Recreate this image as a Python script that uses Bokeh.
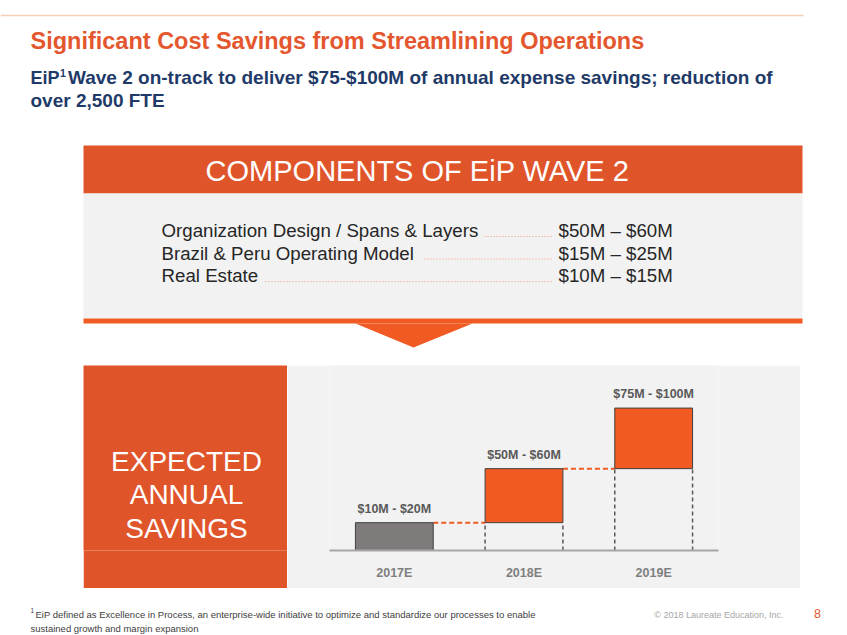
from bokeh.plotting import figure
from bokeh.models import Range1d, FactorRange, ColumnDataSource
from bokeh.layouts import column, row
from bokeh.transform import dodge
from bokeh.core.properties import value
from bokeh.embed import file_html
from bokeh.resources import INLINE

# ---------------- data ----------------
title = "Significant Cost Savings from Streamlining Operations"
subtitle_lead = "EiP"
subtitle_sup = "1"
subtitle_rest = "Wave 2 on-track to deliver $75-$100M of annual expense savings; reduction of"
subtitle_line2 = "over 2,500 FTE"
components_title = "COMPONENTS OF EiP WAVE 2"
component_names = ["Organization Design / Spans & Layers",
                   "Brazil & Peru Operating Model",
                   "Real Estate"]
component_ranges = ["$50M \u2013 $60M", "$15M \u2013 $25M", "$10M \u2013 $15M"]
panel_lines = ["EXPECTED", "ANNUAL", "SAVINGS"]
years = ["2017E", "2018E", "2019E"]
bar_bottom = [0, 17, 50]
bar_top = [17, 50, 87]
bar_labels = ["$10M - $20M", "$50M - $60M", "$75M - $100M"]
footnote_sup = "1"
footnote_lines = ["EiP defined as Excellence in Process, an enterprise-wide initiative to optimize and standardize our processes to enable",
                  "sustained growth and margin expansion"]
copyright_text = "\u00a9 2018 Laureate Education, Inc."
page_number = "8"

# ---------------- styles ----------------
FONT = value("Liberation Sans")
ORANGE_TITLE = "#E4572E"
NAVY = "#1F3A68"
HEADER_ORANGE = "#E0542A"
BRIGHT_ORANGE = "#F15A22"
PANEL_GRAY = "#F2F2F2"
bar_colors = ["#7F7B7B", BRIGHT_ORANGE, BRIGHT_ORANGE]

W = 846            # page width used
ROW_TOP, AXIS_Y, ROW_BOTTOM = 365, 550, 588
PAGE_BOTTOM = 634


def deco_fig(w, h, x0, x1, y0, y1, bg="white", border_bottom=0):
    f = figure(width=w, height=h, x_range=Range1d(x0, x1), y_range=Range1d(y1, y0),
               output_backend="svg", toolbar_location=None,
               x_axis_location=None, y_axis_location=None, min_border=0,
               background_fill_color=bg, border_fill_color=bg, outline_line_color=None)
    f.min_border_bottom = border_bottom
    f.xgrid.visible = False
    f.ygrid.visible = False
    return f


# ---------------- top part (page px coordinates) ----------------
top = deco_fig(W, ROW_TOP, 0, W, 0, ROW_TOP)
top.segment(x0=[0], y0=[15], x1=[803], y1=[15], line_color="#F8CDB8", line_width=1.5)
top.text(x=[30], y=[40], text=[title], text_font=FONT, text_font_size="23.5px",
         text_font_style="bold", text_color=ORANGE_TITLE, text_baseline="middle")
top.text(x=[30], y=[77], text=[subtitle_lead], text_font=FONT, text_font_size="18px",
         text_font_style="bold", text_color=NAVY, text_baseline="middle")
top.text(x=[59.5], y=[72], text=[subtitle_sup], text_font=FONT, text_font_size="10.5px",
         text_font_style="bold", text_color=NAVY, text_baseline="middle")
top.text(x=[67.5], y=[77], text=[subtitle_rest], text_font=FONT, text_font_size="19px",
         text_font_style="bold", text_color=NAVY, text_baseline="middle")
top.text(x=[30], y=[100], text=[subtitle_line2], text_font=FONT, text_font_size="19px",
         text_font_style="bold", text_color=NAVY, text_baseline="middle")

# components box
top.quad(left=[83], right=[802], top=[145], bottom=[193], fill_color=HEADER_ORANGE, line_color=None)
top.text(x=[417], y=[170], text=[components_title], text_font=FONT, text_font_size="29px",
         text_color="white", text_align="center", text_baseline="middle")
top.quad(left=[83], right=[802], top=[193], bottom=[318], fill_color=PANEL_GRAY, line_color=None)
top.quad(left=[83], right=[802], top=[318], bottom=[323], fill_color=BRIGHT_ORANGE, line_color=None)
top.patch(x=[355, 472, 413], y=[323, 323, 347], fill_color=BRIGHT_ORANGE, line_color=None)

row_y = [230 + 22.5 * i for i in range(len(component_names))]
leader_start = [484, 424, 265]
comp_src = ColumnDataSource(dict(name=component_names, rng=component_ranges, y=row_y,
                                 ly=[y + 6 for y in row_y], lx0=leader_start,
                                 lx1=[553] * len(row_y)))
top.segment(x0="lx0", y0="ly", x1="lx1", y1="ly", source=comp_src,
            line_color="#F29A74", line_width=1, line_dash="1 2")
top.text(x=161, y="y", text="name", source=comp_src, text_font=FONT, text_font_size="18.7px",
         text_color="#262626", text_baseline="middle")
top.text(x=558, y="y", text="rng", source=comp_src, text_font=FONT, text_font_size="18.7px",
         text_color="#262626", text_baseline="middle")

# ---------------- middle row ----------------
RH = ROW_BOTTOM - ROW_TOP
BB = ROW_BOTTOM - AXIS_Y
white_left = deco_fig(83, RH, 0, 83, ROW_TOP, AXIS_Y, border_bottom=BB)
white_left.quad(left=[0], right=[83], top=[ROW_TOP], bottom=[AXIS_Y], fill_color="white", line_color=None)

box = deco_fig(204, RH, 83, 287, ROW_TOP, AXIS_Y, bg=HEADER_ORANGE, border_bottom=BB)
panel_y = [460.5 + 33.5 * i for i in range(len(panel_lines))]
box.text(x=[186] * len(panel_lines), y=panel_y, text=panel_lines, text_font=FONT,
         text_font_size="28px", text_color="white", text_align="center", text_baseline="middle")

chart = figure(width=513, height=RH, x_range=FactorRange(factors=years), y_range=Range1d(0, 113),
               output_backend="svg", toolbar_location=None, y_axis_location=None,
               min_border_left=42, min_border_right=82, min_border_top=0, min_border_bottom=BB,
               background_fill_color=PANEL_GRAY, border_fill_color=PANEL_GRAY,
               outline_line_color=None)
chart.xgrid.visible = False
chart.ygrid.visible = False
chart.xaxis.axis_line_color = "#A6A6A6"
chart.xaxis.axis_line_width = 2
chart.xaxis.major_tick_line_color = None
chart.xaxis.minor_tick_line_color = None
chart.xaxis.major_label_text_font = "Liberation Sans"
chart.xaxis.major_label_text_font_size = "12.5px"
chart.xaxis.major_label_text_font_style = "bold"
chart.xaxis.major_label_text_color = "#7F7F7F"
chart.xaxis.major_label_standoff = 9

bar_src = ColumnDataSource(dict(year=years, bottom=bar_bottom, top=bar_top,
                                label=bar_labels, color=bar_colors))
conn_src = ColumnDataSource(dict(frm=years[:-1], to=years[1:], y=bar_top[:-1]))
vert_src = ColumnDataSource(dict(year=years[1:], bottom=bar_bottom[1:]))

for off in (-0.3, 0.3):
    chart.segment(x0=dodge("year", off, range=chart.x_range), y0=0,
                  x1=dodge("year", off, range=chart.x_range), y1="bottom",
                  source=vert_src, line_color="#595959", line_width=1.5, line_dash="4 3")
chart.segment(x0=dodge("frm", 0.3, range=chart.x_range), y0="y",
              x1=dodge("to", -0.3, range=chart.x_range), y1="y",
              source=conn_src, line_color=BRIGHT_ORANGE, line_width=2, line_dash="5 3")
chart.vbar(x="year", width=0.6, bottom="bottom", top="top", source=bar_src,
           fill_color="color", line_color="#404040", line_width=1)
chart.text(x="year", y="top", text="label", source=bar_src, text_font=FONT,
           text_font_size="12.5px", text_font_style="bold", text_color="#595959",
           text_align="center", text_baseline="middle", y_offset=-14)

right = deco_fig(W - 800, RH, 800, W, ROW_TOP, AXIS_Y, border_bottom=BB)
right.quad(left=[800], right=[W], top=[ROW_TOP], bottom=[AXIS_Y], fill_color="white", line_color=None)

# ---------------- bottom ----------------
bottom = deco_fig(W, PAGE_BOTTOM - ROW_BOTTOM, 0, W, ROW_BOTTOM, PAGE_BOTTOM)
bottom.text(x=[30], y=[610], text=[footnote_sup], text_font=FONT, text_font_size="6.5px",
            text_color="#404040", text_baseline="middle")
bottom.text(x=[35], y=[614], text=[footnote_lines[0]], text_font=FONT, text_font_size="9.5px",
            text_color="#404040", text_baseline="middle")
bottom.text(x=[30], y=[628], text=[footnote_lines[1]], text_font=FONT, text_font_size="9.5px",
            text_color="#404040", text_baseline="middle")
bottom.text(x=[783], y=[614], text=[copyright_text], text_font=FONT, text_font_size="9px",
            text_color="#A6A6A6", text_align="right", text_baseline="middle")
bottom.text(x=[817], y=[613], text=[page_number], text_font=FONT, text_font_size="12.5px",
            text_color=ORANGE_TITLE, text_align="center", text_baseline="middle")

layout = column(top, row(white_left, box, chart, right, spacing=0), bottom, spacing=0)

open("out.html", "w").write(file_html(layout, INLINE))
